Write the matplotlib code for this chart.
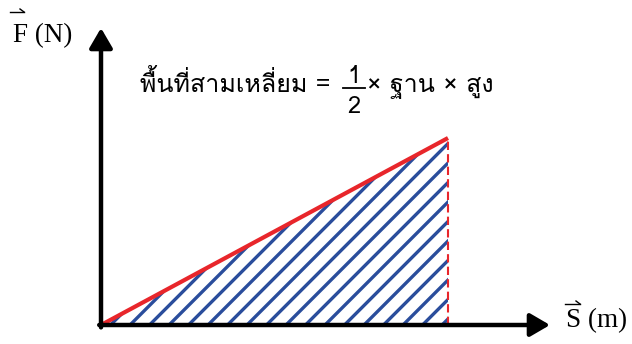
import numpy as np
import matplotlib
matplotlib.use("Agg")
import matplotlib.pyplot as plt
from matplotlib import font_manager
from matplotlib.ft2font import FT2Font
from matplotlib.patches import Polygon
from matplotlib.lines import Line2D
from matplotlib.transforms import IdentityTransform

# work diagram: force grows linearly with displacement
s_vals = [0.0, 10.0]
F_vals = [0.0, 10.0]
x_label = "S (m)"
y_label = "F (N)"
area_text = "พื้นที่สามเหลี่ยม ="
base_text = "× ฐาน × สูง"
frac_top = "1"
frac_bottom = "2"

W, H = 632, 344
BLUE = "#2a4d9c"
RED = "#e8262b"


def thai_font():
    found = []
    for fe in font_manager.fontManager.ttflist:
        try:
            if FT2Font(fe.fname).get_char_index(ord("ฐ")):
                found.append(fe.name)
        except Exception:
            continue
    for name in ["Loma", "Garuda", "Waree", "Tahoma"]:
        if name in found:
            return name
    return found[0] if found else "DejaVu Sans"


thai_family = [thai_font(), "DejaVu Sans"]


def fy(y):
    # pixel row (from top) -> figure fraction
    return 1 - y / H


def harpoon(x0, x1, y):
    fig.add_artist(Line2D([x0, x1], [H - y, H - y], transform=IdentityTransform(),
                          color="black", lw=1.0))
    fig.add_artist(Line2D([x1 - 4, x1], [H - y + 3, H - y], transform=IdentityTransform(),
                          color="black", lw=1.0))


fig = plt.figure(figsize=(W / 100, H / 100), dpi=100)
ax = fig.add_axes([101 / W, 19 / H, 449 / W, 297 / H])
ax.set_xlim(0, s_vals[1] * 449 / 347)
ax.set_ylim(0, F_vals[1] * 297 / 187)
ax.axis("off")

# hatched triangle
tri_pts = np.column_stack([[s_vals[0], s_vals[1], s_vals[1]],
                           [F_vals[0], F_vals[1], F_vals[0]]])
tri = Polygon(tri_pts, closed=True, facecolor="none", edgecolor="none")
ax.add_patch(tri)
px = ax.transData.transform(tri_pts)
x0, x1 = px[:, 0].min(), px[:, 0].max()
y0, y1 = px[:, 1].min(), px[:, 1].max()
gap = 19.5
span = y1 - y0
for c in np.arange(x0 + 21 - span - gap * 20, x1 + gap, gap):
    if c + span < x0 - 5:
        continue
    ln = Line2D([c - 10, c + span + 10], [y0 - 10, y1 + 10],
                transform=IdentityTransform(), color=BLUE, lw=2.4)
    ln.set_clip_path(tri)
    ax.add_artist(ln)

ax.plot(s_vals, F_vals, color=RED, lw=3.0, solid_capstyle="butt", zorder=3)
ax.plot([s_vals[1], s_vals[1]], F_vals, color=RED, lw=1.5, dashes=(4, 2), zorder=3)

# axes with arrow heads
arrow = dict(arrowstyle="-|>,head_length=0.6,head_width=0.35", mutation_scale=20,
             lw=3.2, color="black", shrinkA=0, shrinkB=0)
ax.annotate("", xy=(1, 0), xytext=(-0.004, 0), xycoords="axes fraction", arrowprops=arrow,
            zorder=5)
ax.annotate("", xy=(0, 1), xytext=(0, -0.008), xycoords="axes fraction", arrowprops=arrow,
            zorder=5)

serif = "Liberation Serif"
fig.text(13 / W, fy(42), y_label, family=serif, fontsize=19.5, va="baseline")
harpoon(10, 24, 12)
fig.text(566 / W, fy(327), x_label, family=serif, fontsize=19.5, va="baseline")
harpoon(565, 580, 304)

fig.text(140 / W, fy(92), area_text, family=thai_family, fontsize=18, va="baseline")
fig.text(354 / W, fy(83), frac_top, family=thai_family, fontsize=17, va="baseline", ha="center")
fig.text(354 / W, fy(113), frac_bottom, family=thai_family, fontsize=17, va="baseline", ha="center")
fig.add_artist(Line2D([343, 365], [H - 88, H - 88], transform=IdentityTransform(),
                      color="black", lw=1.3))
fig.text(367 / W, fy(92), base_text, family=thai_family, fontsize=18, va="baseline")

fig.savefig("out.png", dpi=100)
